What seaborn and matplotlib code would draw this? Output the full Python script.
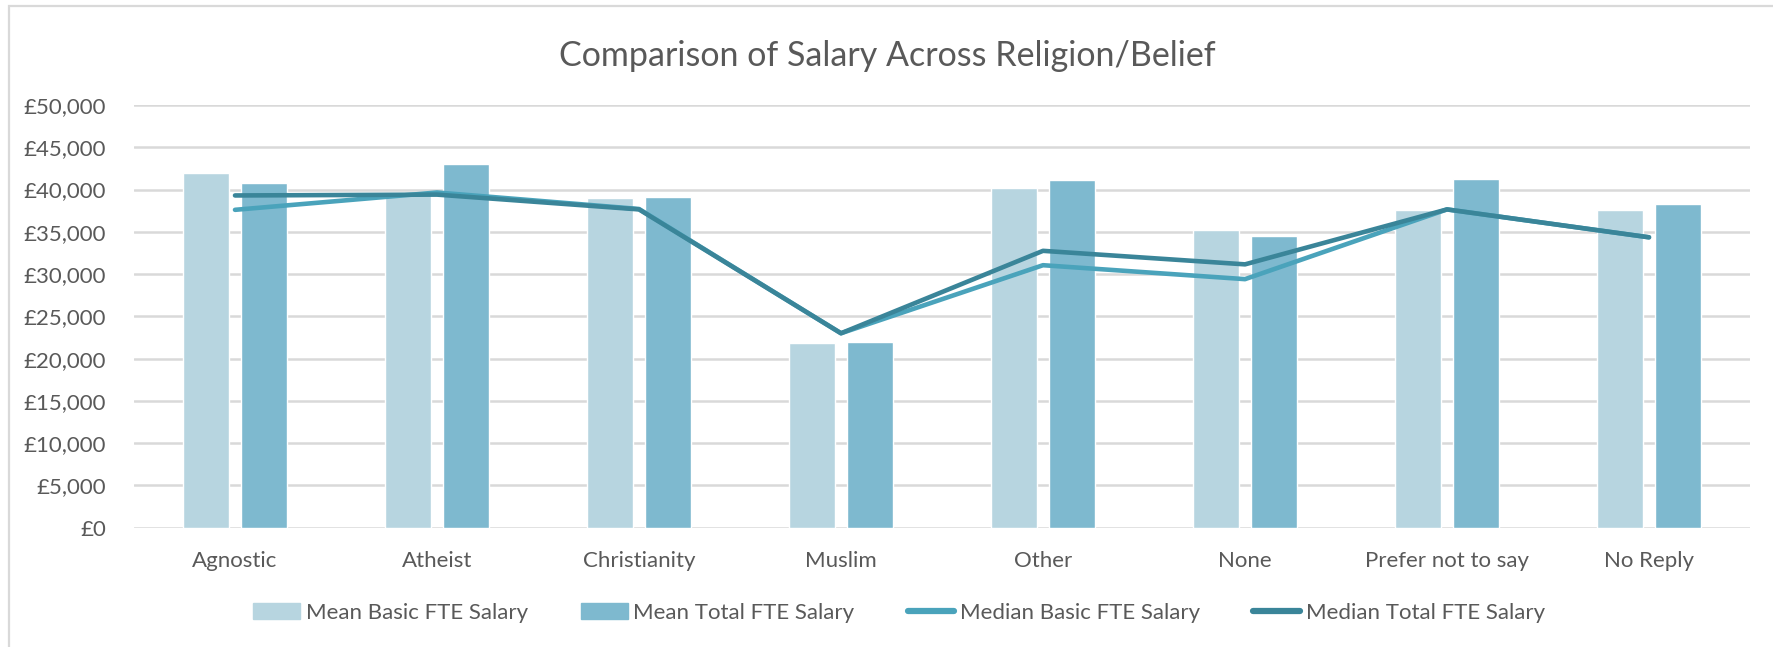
import pandas as pd
import matplotlib
matplotlib.use("Agg")
import matplotlib.pyplot as plt
import matplotlib.patches as mpatches
from matplotlib.lines import Line2D
from matplotlib.ticker import FuncFormatter
import seaborn as sns

# Data
religions = ["Agnostic", "Atheist", "Christianity", "Muslim", "Other",
             "None", "Prefer not to say", "No Reply"]
mean_basic = [42000, 39400, 39000, 21850, 40200, 35200, 37600, 37600]
mean_total = [40750, 43050, 39100, 21980, 41100, 34550, 41200, 38250]
median_basic = [37600, 39650, 37700, 23000, 31050, 29400, 37650, 34350]
median_total = [39300, 39400, 37650, 23000, 32750, 31150, 37650, 34350]

bar_names = ["Mean Basic FTE Salary", "Mean Total FTE Salary"]
line_names = ["Median Basic FTE Salary", "Median Total FTE Salary"]
bar_colors = ["#B7D5E0", "#7EB9CF"]
line_colors = ["#4AA3BB", "#3A8599"]
text_color = "#595959"

bars = pd.DataFrame({
    "Religion": religions * 2,
    "Salary": mean_basic + mean_total,
    "Measure": [bar_names[0]] * 8 + [bar_names[1]] * 8,
})
lines = pd.DataFrame({
    "Religion": religions * 2,
    "Salary": median_basic + median_total,
    "Measure": [line_names[0]] * 8 + [line_names[1]] * 8,
})

sns.set_theme(style="white")
plt.rcParams["font.family"] = ["Lato", "DejaVu Sans"]

fig = plt.figure(figsize=(17.74, 6.47), dpi=100)
ax = fig.add_axes([134 / 1774, 1 - 527.7 / 647, (1750 - 134) / 1774, (527.7 - 105) / 647])

sns.barplot(data=bars, x="Religion", y="Salary", hue="Measure", order=religions,
            palette=bar_colors, width=0.57, gap=0.21, errorbar=None,
            saturation=1, legend=False, ax=ax)
sns.pointplot(data=lines, x="Religion", y="Salary", hue="Measure", order=religions,
              palette=line_colors, markers="", linestyles="-", errorbar=None,
              dodge=False, legend=False, ax=ax, zorder=5)
for ln in ax.lines:
    ln.set_linewidth(3.3)
    ln.set_solid_capstyle("round")
    ln.set_solid_joinstyle("round")

ax.set_ylim(0, 50000)
ax.set_xlim(-0.5, len(religions) - 0.5)
ax.set_yticks(range(0, 50001, 5000))
ax.yaxis.set_major_formatter(FuncFormatter(lambda v, p: f"£{v:,.0f}"))
ax.yaxis.grid(True, color="#D9D9D9", linewidth=1.8)
ax.set_axisbelow(True)
for s in ax.spines.values():
    s.set_visible(False)
ax.tick_params(axis="y", length=0, pad=20, labelsize=16, labelcolor=text_color)
ax.tick_params(axis="x", length=0, pad=17, labelsize=16, labelcolor=text_color)
ax.set_xlabel("")
ax.set_ylabel("")

fig.text(0.5, 1 - 56 / 647, "Comparison of Salary Across Religion/Belief",
         ha="center", va="center", fontsize=24.5, color=text_color)

handles = [mpatches.Patch(color=bar_colors[0], label=bar_names[0]),
           mpatches.Patch(color=bar_colors[1], label=bar_names[1]),
           Line2D([], [], color=line_colors[0], lw=4.5, solid_capstyle="round", label=line_names[0]),
           Line2D([], [], color=line_colors[1], lw=4.5, solid_capstyle="round", label=line_names[1])]
fig.legend(handles=handles, loc="center", bbox_to_anchor=(899 / 1774, 1 - 613 / 647),
           ncol=4, frameon=False, fontsize=16, labelcolor=text_color,
           handlelength=2.1, handleheight=0.7, handletextpad=0.25, columnspacing=2.4)

# chart border (Excel chart area)
fig.patches.append(mpatches.Rectangle((9.5 / 1774, -0.05), 1.2, 1 - 6 / 647 + 0.05,
                                      transform=fig.transFigure, fill=False,
                                      edgecolor="#D9D9D9", linewidth=1.6))

fig.savefig("out.png", dpi=100)
